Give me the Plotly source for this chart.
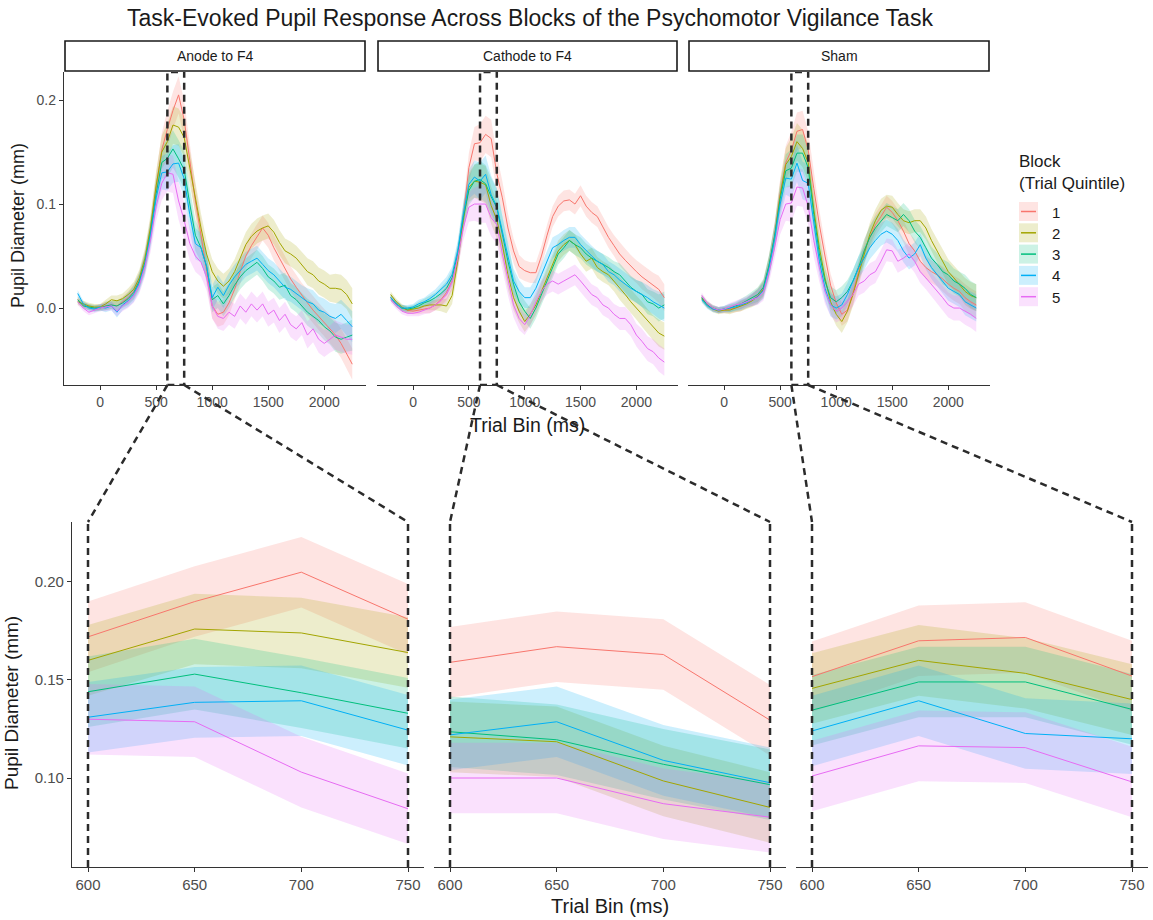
import plotly.graph_objects as go

# ---------------- data ----------------
TIME_BINS = [-200, -150, -100, -50, 0, 50, 100, 150, 200, 250,
             300, 350, 400, 450, 500, 550, 600, 650, 700, 750,
             800, 850, 900, 950, 1000, 1050, 1100, 1150, 1200, 1250,
             1300, 1350, 1400, 1450, 1500, 1550, 1600, 1650, 1700, 1750,
             1800, 1850, 1900, 1950, 2000, 2050, 2100, 2150, 2200, 2250]

CONDITIONS = ["Anode to F4", "Cathode to F4", "Sham"]
BLOCKS = ["1", "2", "3", "4", "5"]
BLOCK_COLORS = ["#F8766D", "#A3A500", "#00BF7D", "#00B0F6", "#E76BF3"]

ZOOM_START, ZOOM_END = 600, 750

anode_b1 = [0.008, 0.003, 0.001, 0.000, 0.001, 0.002, 0.003, 0.002, 0.006, 0.010,
            0.016, 0.027, 0.045, 0.075, 0.115, 0.152, 0.172, 0.190, 0.205, 0.181,
            0.142, 0.103, 0.070, 0.035, 0.002, -0.006, -0.004, 0.005, 0.018, 0.035,
            0.050, 0.060, 0.068, 0.077, 0.070, 0.058, 0.048, 0.038, 0.028, 0.020,
            0.012, 0.005, -0.002, -0.008, -0.014, -0.020, -0.026, -0.034, -0.044, -0.054]
anode_b2 = [0.006, 0.004, 0.002, 0.001, 0.001, 0.004, 0.008, 0.007, 0.009, 0.013,
            0.018, 0.029, 0.048, 0.078, 0.118, 0.150, 0.160, 0.176, 0.174, 0.164,
            0.135, 0.106, 0.077, 0.052, 0.035, 0.026, 0.021, 0.026, 0.035, 0.048,
            0.061, 0.069, 0.074, 0.077, 0.079, 0.073, 0.063, 0.055, 0.052, 0.048,
            0.042, 0.035, 0.032, 0.026, 0.023, 0.019, 0.019, 0.018, 0.013, 0.004]
anode_b3 = [0.008, 0.002, 0.001, 0.000, 0.000, 0.002, 0.003, 0.002, 0.005, 0.009,
            0.015, 0.026, 0.044, 0.073, 0.110, 0.140, 0.144, 0.153, 0.1435, 0.133,
            0.100, 0.070, 0.058, 0.040, 0.008, 0.012, 0.004, 0.012, 0.022, 0.030,
            0.036, 0.040, 0.044, 0.038, 0.030, 0.026, 0.020, 0.022, 0.012, 0.008,
            0.002, -0.004, -0.008, -0.012, -0.018, -0.022, -0.028, -0.030, -0.028, -0.026]
anode_b4 = [0.014, 0.004, 0.000, -0.001, 0.001, 0.000, 0.002, -0.004, 0.003, 0.007,
            0.013, 0.024, 0.042, 0.070, 0.106, 0.130, 0.131, 0.1386, 0.1394, 0.1244,
            0.090, 0.062, 0.058, 0.040, 0.010, 0.020, 0.012, 0.022, 0.030, 0.036,
            0.042, 0.045, 0.048, 0.042, 0.036, 0.032, 0.026, 0.020, 0.018, 0.014,
            0.010, 0.006, 0.004, -0.002, -0.004, -0.008, -0.010, -0.006, -0.012, -0.018]
anode_b5 = [0.006, 0.000, -0.004, -0.002, 0.000, 0.001, 0.002, -0.003, 0.002, 0.006,
            0.012, 0.022, 0.040, 0.066, 0.098, 0.120, 0.130, 0.1287, 0.103, 0.0843,
            0.062, 0.050, 0.044, 0.030, 0.002, -0.008, -0.010, -0.004, -0.008, 0.002,
            -0.004, 0.004, -0.002, 0.004, -0.006, -0.002, -0.012, -0.006, -0.016, -0.020,
            -0.014, -0.026, -0.020, -0.030, -0.034, -0.030, -0.026, -0.028, -0.030, -0.030]

cathode_b1 = [0.010, 0.004, 0.000, -0.002, -0.003, -0.002, -0.001, 0.000, 0.003, 0.008,
              0.015, 0.026, 0.048, 0.087, 0.135, 0.158, 0.159, 0.167, 0.163, 0.1295,
              0.106, 0.077, 0.055, 0.040, 0.036, 0.034, 0.034, 0.050, 0.070, 0.088,
              0.098, 0.103, 0.104, 0.100, 0.108, 0.098, 0.092, 0.088, 0.078, 0.068,
              0.060, 0.052, 0.046, 0.040, 0.035, 0.030, 0.026, 0.022, 0.018, 0.010]
cathode_b2 = [0.013, 0.006, 0.001, -0.002, -0.001, 0.000, 0.002, 0.003, 0.003, 0.003,
              0.002, 0.012, 0.045, 0.084, 0.116, 0.122, 0.121, 0.1185, 0.0985, 0.085,
              0.061, 0.032, 0.010, -0.003, -0.013, -0.006, 0.003, 0.016, 0.029, 0.042,
              0.055, 0.061, 0.065, 0.061, 0.052, 0.045, 0.048, 0.039, 0.035, 0.032,
              0.026, 0.019, 0.013, 0.006, 0.000, -0.006, -0.013, -0.019, -0.024, -0.027]
cathode_b3 = [0.010, 0.004, 0.000, -0.001, 0.000, 0.002, 0.005, 0.007, 0.010, 0.014,
              0.019, 0.029, 0.052, 0.087, 0.113, 0.122, 0.1236, 0.1195, 0.107, 0.0966,
              0.071, 0.045, 0.023, 0.006, -0.003, -0.010, 0.000, 0.013, 0.026, 0.039,
              0.052, 0.058, 0.065, 0.061, 0.058, 0.052, 0.048, 0.045, 0.042, 0.039,
              0.035, 0.032, 0.026, 0.020, 0.016, 0.013, 0.006, 0.004, 0.000, 0.003]
cathode_b4 = [0.010, 0.004, 0.000, 0.000, 0.001, 0.004, 0.006, 0.009, 0.013, 0.018,
              0.023, 0.032, 0.055, 0.090, 0.119, 0.126, 0.122, 0.1287, 0.109, 0.0976,
              0.074, 0.048, 0.026, 0.016, 0.010, 0.010, 0.019, 0.032, 0.045, 0.058,
              0.061, 0.065, 0.068, 0.068, 0.061, 0.055, 0.050, 0.045, 0.042, 0.035,
              0.032, 0.027, 0.023, 0.019, 0.016, 0.013, 0.010, 0.006, 0.003, 0.000]
cathode_b5 = [0.008, 0.002, -0.003, -0.005, -0.005, -0.004, -0.002, 0.000, 0.003, 0.007,
              0.013, 0.025, 0.048, 0.077, 0.097, 0.100, 0.100, 0.100, 0.0869, 0.080,
              0.052, 0.026, 0.003, -0.010, -0.016, -0.007, 0.006, 0.016, 0.023, 0.026,
              0.023, 0.026, 0.029, 0.032, 0.026, 0.019, 0.013, 0.010, 0.003, 0.000,
              -0.006, -0.010, -0.010, -0.016, -0.026, -0.032, -0.039, -0.042, -0.048, -0.052]

sham_b1 = [0.010, 0.004, 0.000, -0.002, -0.002, -0.001, 0.000, 0.002, 0.005, 0.008,
           0.012, 0.019, 0.040, 0.070, 0.110, 0.140, 0.1517, 0.170, 0.1717, 0.152,
           0.115, 0.080, 0.050, 0.022, 0.005, -0.006, -0.002, 0.015, 0.035, 0.055,
           0.068, 0.080, 0.088, 0.097, 0.092, 0.084, 0.074, 0.062, 0.055, 0.045,
           0.039, 0.035, 0.032, 0.028, 0.023, 0.019, 0.016, 0.010, 0.006, 0.003]
sham_b2 = [0.009, 0.003, -0.001, -0.003, -0.002, -0.002, 0.000, 0.002, 0.004, 0.007,
           0.011, 0.018, 0.040, 0.068, 0.108, 0.138, 0.1457, 0.160, 0.1534, 0.140,
           0.095, 0.058, 0.029, 0.006, -0.006, -0.013, -0.003, 0.013, 0.032, 0.052,
           0.071, 0.084, 0.094, 0.098, 0.097, 0.090, 0.084, 0.082, 0.084, 0.084,
           0.077, 0.065, 0.055, 0.045, 0.035, 0.029, 0.023, 0.016, 0.012, 0.010]
sham_b3 = [0.010, 0.003, 0.000, -0.002, -0.001, 0.000, 0.002, 0.004, 0.007, 0.010,
           0.013, 0.020, 0.041, 0.069, 0.105, 0.132, 0.1346, 0.149, 0.149, 0.135,
           0.090, 0.052, 0.026, 0.010, 0.006, 0.010, 0.016, 0.026, 0.039, 0.055,
           0.068, 0.077, 0.084, 0.090, 0.087, 0.084, 0.090, 0.084, 0.074, 0.068,
           0.058, 0.048, 0.042, 0.035, 0.032, 0.026, 0.023, 0.019, 0.013, 0.010]
sham_b4 = [0.008, 0.002, -0.001, -0.002, -0.001, 0.000, 0.001, 0.003, 0.005, 0.008,
           0.011, 0.017, 0.038, 0.066, 0.100, 0.125, 0.124, 0.1394, 0.1227, 0.120,
           0.080, 0.045, 0.019, 0.003, 0.000, 0.003, 0.013, 0.026, 0.039, 0.048,
           0.058, 0.065, 0.071, 0.074, 0.071, 0.065, 0.055, 0.048, 0.052, 0.061,
           0.048, 0.039, 0.032, 0.026, 0.019, 0.016, 0.013, 0.006, 0.003, 0.000]
sham_b5 = [0.012, 0.004, 0.000, -0.002, -0.001, 0.001, 0.003, 0.004, 0.006, 0.008,
           0.010, 0.015, 0.034, 0.058, 0.085, 0.100, 0.101, 0.1164, 0.1155, 0.098,
           0.065, 0.039, 0.016, 0.003, -0.003, 0.000, 0.006, 0.013, 0.023, 0.026,
           0.032, 0.035, 0.045, 0.056, 0.055, 0.045, 0.048, 0.052, 0.045, 0.035,
           0.029, 0.023, 0.016, 0.010, 0.003, 0.000, 0.000, -0.003, -0.006, -0.010]

# standard errors (ribbon half-width) per condition
se_anode = [0.003, 0.003, 0.003, 0.003, 0.003, 0.004, 0.004, 0.005, 0.005, 0.006,
            0.007, 0.008, 0.010, 0.012, 0.014, 0.016, 0.018, 0.018, 0.018, 0.018,
            0.016, 0.015, 0.014, 0.013, 0.012, 0.012, 0.012, 0.012, 0.012, 0.012,
            0.012, 0.012, 0.012, 0.012, 0.012, 0.012, 0.012, 0.012, 0.012, 0.012,
            0.012, 0.013, 0.013, 0.013, 0.013, 0.013, 0.014, 0.014, 0.014, 0.015]
se_cathode = [0.003, 0.003, 0.003, 0.003, 0.003, 0.004, 0.004, 0.005, 0.005, 0.006,
              0.007, 0.008, 0.010, 0.012, 0.014, 0.016, 0.018, 0.018, 0.018, 0.018,
              0.016, 0.014, 0.012, 0.011, 0.010, 0.010, 0.010, 0.010, 0.010, 0.010,
              0.010, 0.010, 0.010, 0.010, 0.010, 0.010, 0.010, 0.010, 0.010, 0.010,
              0.010, 0.011, 0.011, 0.011, 0.011, 0.012, 0.012, 0.012, 0.013, 0.013]
se_sham = [0.003, 0.003, 0.003, 0.003, 0.003, 0.004, 0.004, 0.005, 0.005, 0.006,
           0.007, 0.008, 0.010, 0.012, 0.014, 0.016, 0.018, 0.018, 0.018, 0.018,
           0.016, 0.014, 0.012, 0.011, 0.011, 0.011, 0.011, 0.011, 0.011, 0.011,
           0.011, 0.011, 0.011, 0.011, 0.011, 0.011, 0.011, 0.011, 0.011, 0.011,
           0.011, 0.011, 0.011, 0.012, 0.012, 0.012, 0.012, 0.013, 0.013, 0.013]

SERIES = {
    "Anode to F4": [anode_b1, anode_b2, anode_b3, anode_b4, anode_b5],
    "Cathode to F4": [cathode_b1, cathode_b2, cathode_b3, cathode_b4, cathode_b5],
    "Sham": [sham_b1, sham_b2, sham_b3, sham_b4, sham_b5],
}
SE = {"Anode to F4": se_anode, "Cathode to F4": se_cathode, "Sham": se_sham}

# ---------------- layout geometry (pixels) ----------------
W, H = 1153, 920
FONT = "Liberation Sans, Arial, sans-serif"
TOP_X = [(64, 366), (377, 678), (688, 990)]
TOP_Y = (72, 385)
BOT_X = [(72, 424), (434, 786), (796, 1148)]
BOT_Y = (522, 867)
TOP_XR = [-322.5, 2372.5]
TOP_YR = [-0.074, 0.227]
BOT_XR = [592.5, 757.5]
BOT_YR = [0.0546, 0.2306]


def px(p):
    return p / W


def py(p):
    return 1 - p / H


def dom_x(d):
    return [px(d[0]), px(d[1])]


def dom_y(d):
    return [py(d[1]), py(d[0])]


def to_paper_x(v, d, r):
    a, b = dom_x(d)
    return a + (v - r[0]) / (r[1] - r[0]) * (b - a)


def rgba(hexc, a):
    h = hexc.lstrip("#")
    return "rgba(%d,%d,%d,%.2f)" % (int(h[0:2], 16), int(h[2:4], 16), int(h[4:6], 16), a)


def label(text, x, y, size, xanchor="center", yanchor="middle", **kw):
    return dict(text=text, xref="paper", yref="paper", x=x, y=y, xanchor=xanchor,
                yanchor=yanchor, showarrow=False,
                font=dict(size=size, color="#1A1A1A", family=FONT), **kw)


fig = go.Figure()

for ci, cond in enumerate(CONDITIONS):
    se = SE[cond]
    for xa, ya, lo, hi in [
        ("x%s" % ("" if ci == 0 else ci + 1), "y%s" % ("" if ci == 0 else ci + 1), None, None),
        ("x%d" % (ci + 4), "y%d" % (ci + 4), ZOOM_START, ZOOM_END),
    ]:
        idx = [i for i, t in enumerate(TIME_BINS) if lo is None or (lo <= t <= hi)]
        xs = [TIME_BINS[i] for i in idx]
        for bi, vals in enumerate(SERIES[cond]):
            up = [vals[i] + se[i] for i in idx]
            dn = [vals[i] - se[i] for i in idx]
            fig.add_trace(go.Scatter(
                x=xs + xs[::-1], y=up + dn[::-1], fill="toself",
                fillcolor=rgba(BLOCK_COLORS[bi], 0.2), line=dict(width=0),
                mode="lines", hoverinfo="skip", showlegend=False,
                xaxis=xa, yaxis=ya))
        for bi, vals in enumerate(SERIES[cond]):
            fig.add_trace(go.Scatter(
                x=xs, y=[vals[i] for i in idx], mode="lines",
                line=dict(color=BLOCK_COLORS[bi], width=1),
                name=BLOCKS[bi], showlegend=False, xaxis=xa, yaxis=ya))

axis_common = dict(showgrid=False, zeroline=False, linecolor="#333333",
                   linewidth=1.3, ticks="outside", ticklen=4, tickcolor="#333333",
                   tickwidth=1.2)
layout_axes = {}
for ci in range(3):
    sfx = "" if ci == 0 else str(ci + 1)
    layout_axes["xaxis" + sfx] = dict(
        domain=dom_x(TOP_X[ci]), range=TOP_XR, anchor="y" + sfx,
        showline=True, tickvals=[0, 500, 1000, 1500, 2000],
        tickfont=dict(size=14, color="#4D4D4D", family=FONT), **axis_common)
    ydict = dict(domain=dom_y(TOP_Y), range=TOP_YR, anchor="x" + sfx,
                 tickvals=[0, 0.1, 0.2], ticktext=["0.0", "0.1", "0.2"],
                 tickfont=dict(size=14, color="#4D4D4D", family=FONT), **axis_common)
    if ci > 0:
        ydict.update(showline=False, showticklabels=False, ticks="")
    else:
        ydict.update(showline=True)
    layout_axes["yaxis" + sfx] = ydict

    b = str(ci + 4)
    layout_axes["xaxis" + b] = dict(
        domain=dom_x(BOT_X[ci]), range=BOT_XR, anchor="y" + b,
        showline=True, tickvals=[600, 650, 700, 750],
        tickfont=dict(size=15, color="#4D4D4D", family=FONT), **axis_common)
    yb = dict(domain=dom_y(BOT_Y), range=BOT_YR, anchor="x" + b,
              tickvals=[0.10, 0.15, 0.20], ticktext=["0.10", "0.15", "0.20"],
              tickfont=dict(size=15, color="#4D4D4D", family=FONT), **axis_common)
    if ci > 0:
        yb.update(showline=False, showticklabels=False, ticks="")
    else:
        yb.update(showline=True)
    layout_axes["yaxis" + b] = yb

shapes = []
annotations = []
DASH = dict(color="#2B2B2B", width=2.5, dash="7px,5px")

for ci, cond in enumerate(CONDITIONS):
    sfx = "" if ci == 0 else str(ci + 1)
    b = str(ci + 4)
    shapes.append(dict(type="rect", xref="paper", yref="paper",
                       x0=px(TOP_X[ci][0] + 1), x1=px(TOP_X[ci][1] - 1),
                       y0=py(71), y1=py(41), line=dict(color="#1A1A1A", width=1.6),
                       fillcolor="white"))
    annotations.append(label(cond, px((TOP_X[ci][0] + TOP_X[ci][1]) / 2), py(56), 14))
    shapes.append(dict(type="rect", xref="x" + sfx, yref="y" + sfx,
                       x0=ZOOM_START, x1=ZOOM_END, y0=TOP_YR[0], y1=TOP_YR[1],
                       line=DASH, layer="above"))
    for xv in (ZOOM_START, ZOOM_END):
        shapes.append(dict(type="line", xref="x" + b, yref="y" + b,
                           x0=xv, x1=xv, y0=BOT_YR[0], y1=BOT_YR[1],
                           line=DASH, layer="above"))
        shapes.append(dict(type="line", xref="paper", yref="paper",
                           x0=to_paper_x(xv, TOP_X[ci], TOP_XR), y0=py(TOP_Y[1]),
                           x1=to_paper_x(xv, BOT_X[ci], BOT_XR), y1=py(BOT_Y[0]),
                           line=DASH, layer="above"))

annotations += [
    label("Pupil Diameter (mm)", px(18), py(226), 18, textangle=-90),
    label("Pupil Diameter (mm)", px(11), py(703), 19, textangle=-90),
    label("Trial Bin (ms)", px(527), py(425), 19.5),
    label("Trial Bin (ms)", px(610), py(906), 20),
]

annotations.append(label("Block<br>(Trial Quintile)", px(1017), py(172), 17,
                         xanchor="left", align="left"))
for bi, lab in enumerate(BLOCKS):
    top = 202 + bi * 21.3
    shapes.append(dict(type="rect", xref="paper", yref="paper",
                       x0=px(1019), x1=px(1038), y0=py(top + 19), y1=py(top),
                       line=dict(width=0), fillcolor=rgba(BLOCK_COLORS[bi], 0.2)))
    shapes.append(dict(type="line", xref="paper", yref="paper",
                       x0=px(1021), x1=px(1036), y0=py(top + 9.5), y1=py(top + 9.5),
                       line=dict(color=BLOCK_COLORS[bi], width=1.5)))
    annotations.append(label(lab, px(1050), py(top + 10), 15, xanchor="left"))

fig.update_layout(
    width=W, height=H, margin=dict(l=0, r=0, t=0, b=0),
    paper_bgcolor="white", plot_bgcolor="white", showlegend=False,
    title=dict(text="Task-Evoked Pupil Response Across Blocks of the Psychomotor Vigilance Task",
               x=px(530), y=py(18), xanchor="center", yanchor="middle",
               font=dict(size=23, color="#1A1A1A", family=FONT)),
    shapes=shapes, annotations=annotations, **layout_axes)

fig.write_html("out.html")
